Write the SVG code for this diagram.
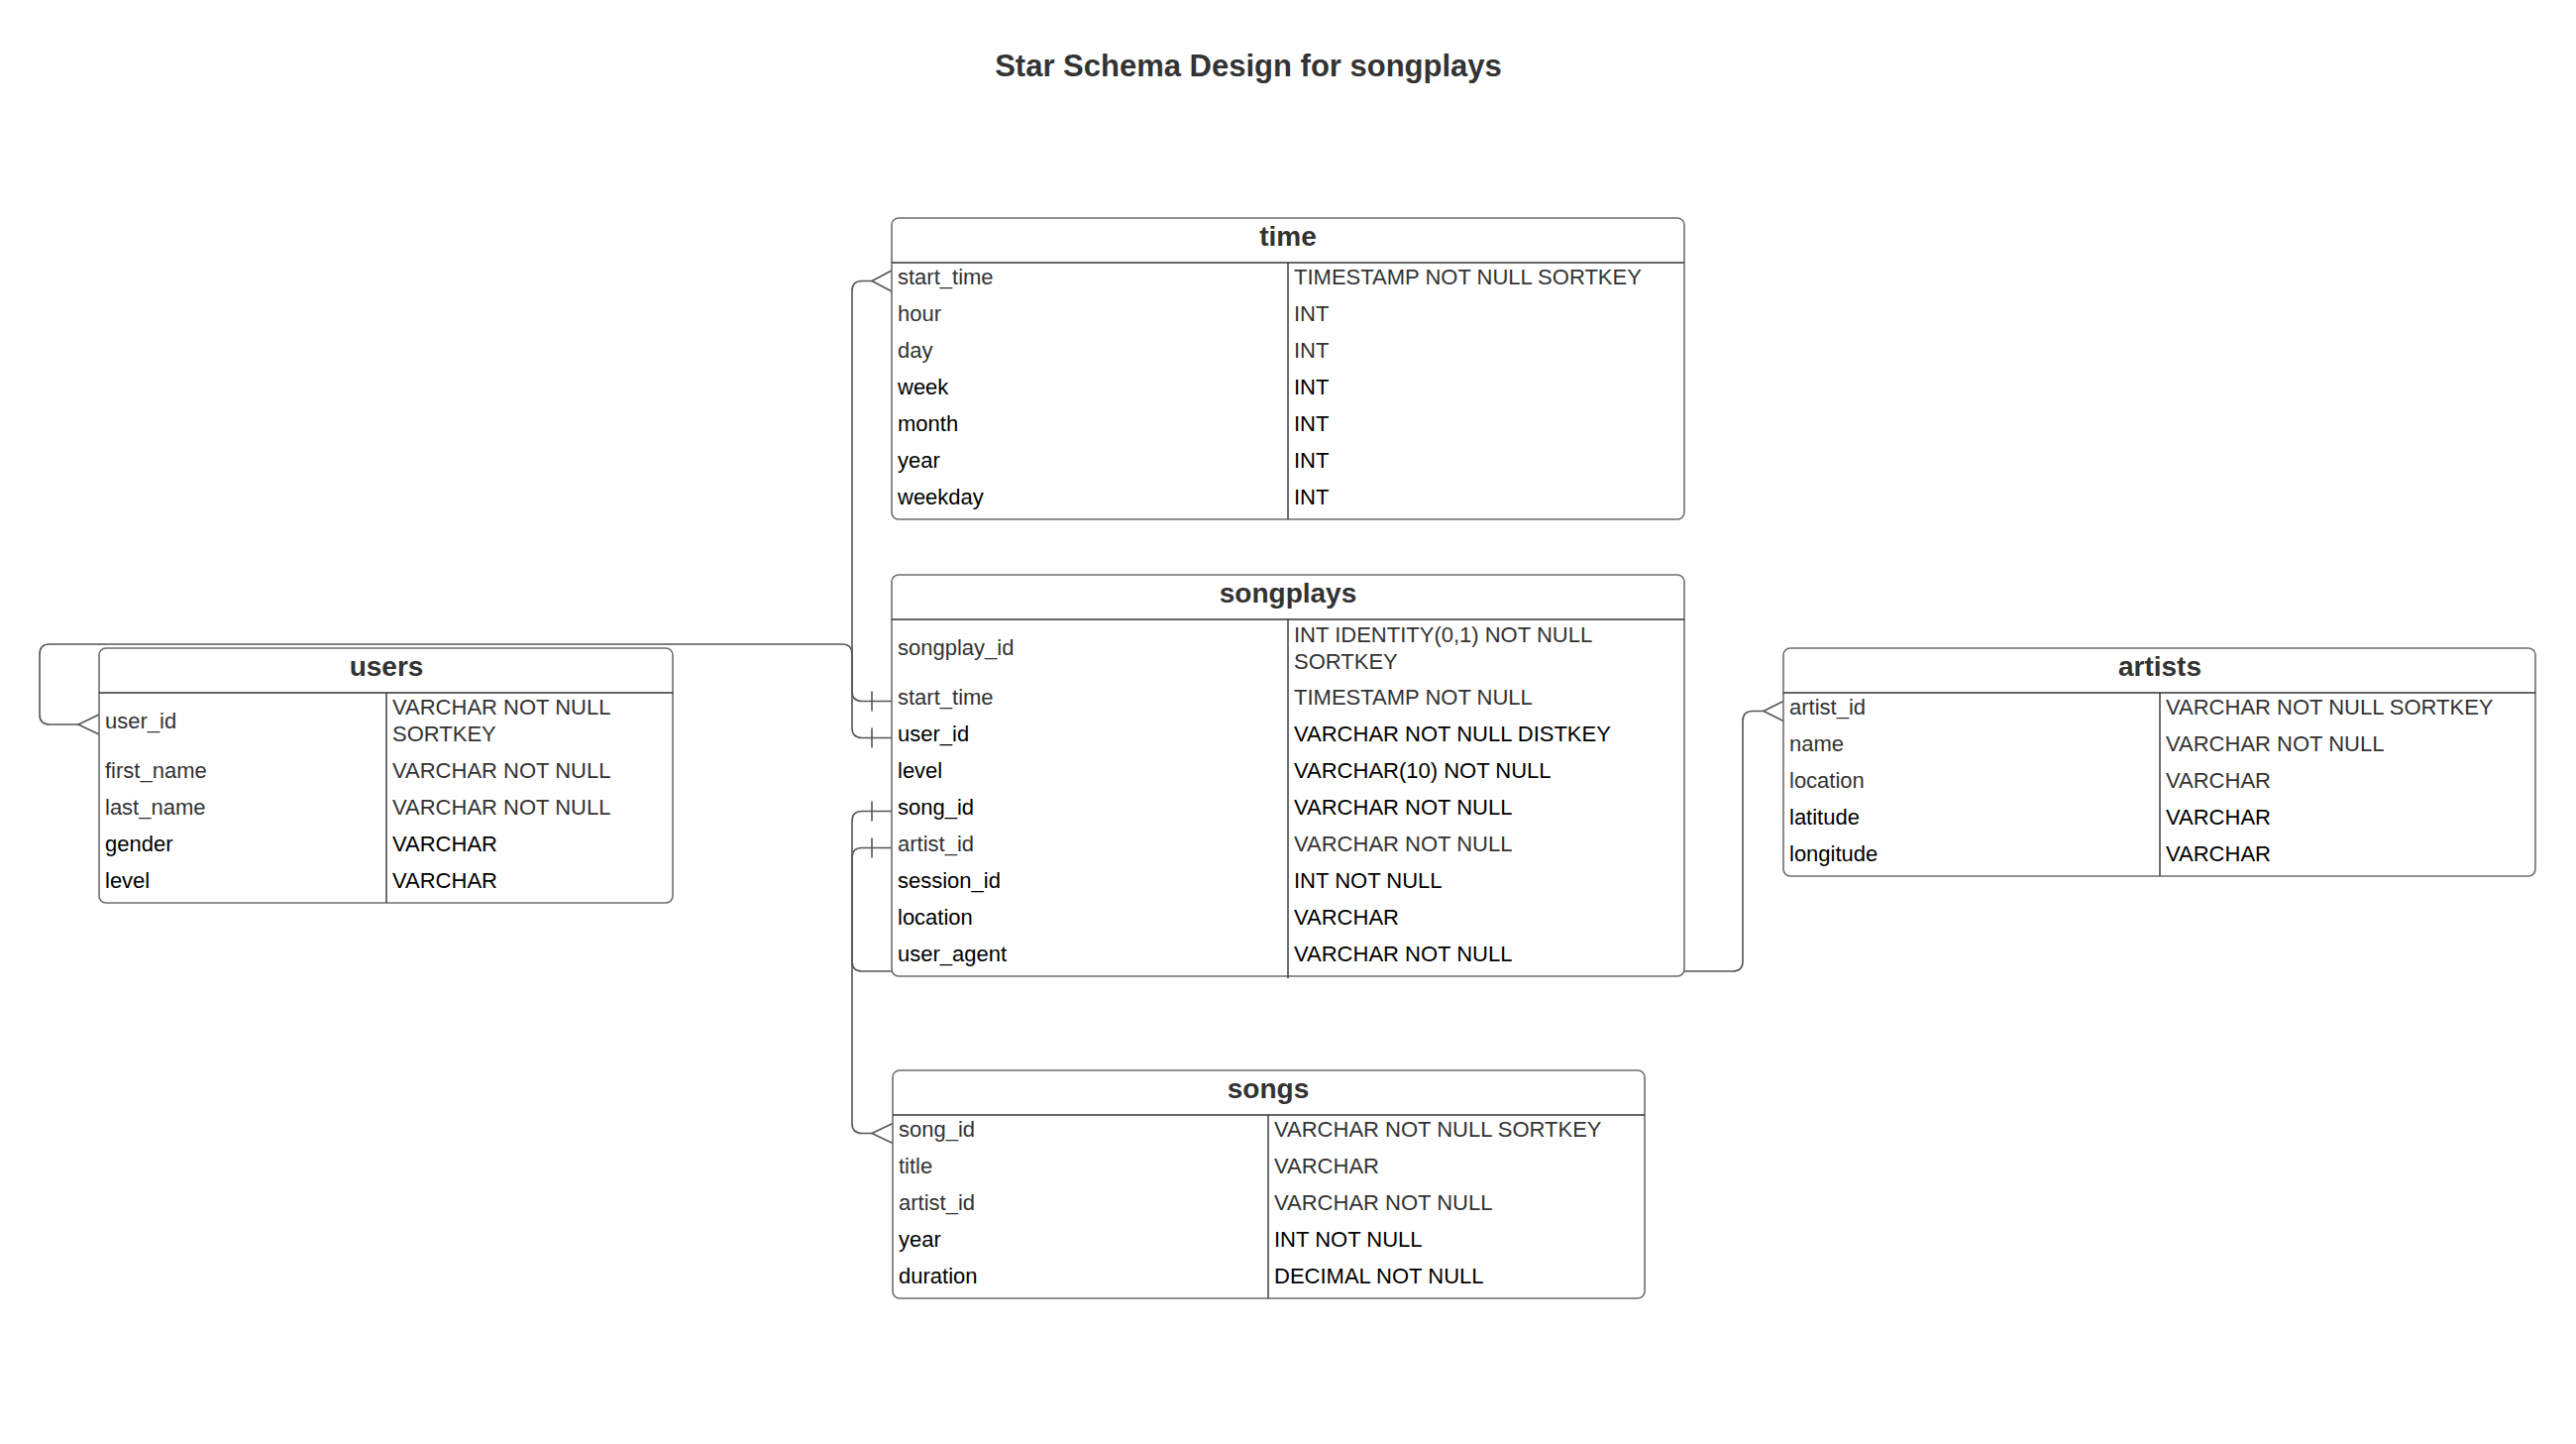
<svg xmlns="http://www.w3.org/2000/svg" width="2600" height="1457" viewBox="0 0 2600 1457">
<style>
text{font-family:"Liberation Sans",Arial,sans-serif}
.title{font-size:31px;font-weight:bold;fill:#333;text-anchor:middle}
.box{fill:#fff;stroke:#6e6e6e;stroke-width:1.6}
.div{stroke:#333;stroke-width:1.4;fill:none}
.h{font-size:28px;font-weight:bold;fill:#333;text-anchor:middle}
.g{font-size:22px;fill:#333}
.b{font-size:22px;fill:#000}
.conn{fill:none;stroke:#555;stroke-width:1.6}
</style>
<rect width="2600" height="1457" fill="#fff"/>
<text class="title" x="1260" y="76.5">Star Schema Design for songplays</text>

<g id="connectors">
  <!-- time.start_time -> songplays.start_time -->
  <path class="conn" d="M880 283.5H870Q860 283.5 860 293.5V697.5Q860 707.5 870 707.5H900"/>
  <path class="conn" d="M900 273L880 283.5L900 294"/>
  <path class="conn" d="M880 697.5V717.5"/>
  <!-- users.user_id -> songplays.user_id -->
  <path class="conn" d="M79 731H50Q40 731 40 721V660Q40 650 50 650H850Q860 650 860 660V734.5Q860 744.5 870 744.5H900"/>
  <path class="conn" d="M100 721L79 731L100 741"/>
  <path class="conn" d="M880 734.5V754.5"/>
  <!-- songs.song_id -> songplays.song_id -->
  <path class="conn" d="M900 818.5H870Q860 818.5 860 828.5V1133.5Q860 1143.5 870 1143.5H880"/>
  <path class="conn" d="M901 1133.5L880 1143.5L901 1153.5"/>
  <path class="conn" d="M880 808.5V828.5"/>
  <!-- artists.artist_id -> songplays.artist_id -->
  <path class="conn" d="M900 855.5H870Q860 855.5 860 865.5V970Q860 980 870 980H1749Q1759 980 1759 970V727.5Q1759 717.5 1769 717.5H1780"/>
  <path class="conn" d="M1800 707.5L1780 717.5L1800 727.5"/>
  <path class="conn" d="M880 845.5V865.5"/>
</g>

<g id="time">
  <rect class="box" x="900" y="220" width="800" height="304" rx="7"/>
  <line class="div" x1="900" y1="265" x2="1700" y2="265"/>
  <line class="div" x1="1300" y1="265" x2="1300" y2="524"/>
  <text class="h" x="1300" y="248">time</text>
  <text class="g" x="906" y="287">start_time</text><text class="g" x="1306" y="287">TIMESTAMP NOT NULL SORTKEY</text>
  <text class="g" x="906" y="324">hour</text><text class="g" x="1306" y="324">INT</text>
  <text class="g" x="906" y="361">day</text><text class="g" x="1306" y="361">INT</text>
  <text class="b" x="906" y="398">week</text><text class="b" x="1306" y="398">INT</text>
  <text class="b" x="906" y="435">month</text><text class="b" x="1306" y="435">INT</text>
  <text class="b" x="906" y="472">year</text><text class="b" x="1306" y="472">INT</text>
  <text class="b" x="906" y="509">weekday</text><text class="b" x="1306" y="509">INT</text>
</g>

<g id="users">
  <rect class="box" x="100" y="654" width="579" height="257" rx="7"/>
  <line class="div" x1="100" y1="699" x2="679" y2="699"/>
  <line class="div" x1="390" y1="699" x2="390" y2="911"/>
  <text class="h" x="390" y="682">users</text>
  <text class="g" x="106" y="735">user_id</text>
  <text class="g" x="396" y="721">VARCHAR NOT NULL</text>
  <text class="g" x="396" y="748">SORTKEY</text>
  <text class="g" x="106" y="785">first_name</text><text class="g" x="396" y="785">VARCHAR NOT NULL</text>
  <text class="g" x="106" y="822">last_name</text><text class="g" x="396" y="822">VARCHAR NOT NULL</text>
  <text class="b" x="106" y="859">gender</text><text class="b" x="396" y="859">VARCHAR</text>
  <text class="b" x="106" y="896">level</text><text class="b" x="396" y="896">VARCHAR</text>
</g>

<g id="songplays">
  <rect class="box" x="900" y="580" width="800" height="405" rx="7"/>
  <line class="div" x1="900" y1="625" x2="1700" y2="625"/>
  <line class="div" x1="1300" y1="625" x2="1300" y2="987"/>
  <text class="h" x="1300" y="608">songplays</text>
  <text class="g" x="906" y="661">songplay_id</text>
  <text class="g" x="1306" y="648">INT IDENTITY(0,1) NOT NULL</text>
  <text class="g" x="1306" y="675">SORTKEY</text>
  <text class="g" x="906" y="711">start_time</text><text class="g" x="1306" y="711">TIMESTAMP NOT NULL</text>
  <text class="b" x="906" y="748">user_id</text><text class="b" x="1306" y="748">VARCHAR NOT NULL DISTKEY</text>
  <text class="b" x="906" y="785">level</text><text class="b" x="1306" y="785">VARCHAR(10) NOT NULL</text>
  <text class="b" x="906" y="822">song_id</text><text class="b" x="1306" y="822">VARCHAR NOT NULL</text>
  <text class="g" x="906" y="859">artist_id</text><text class="g" x="1306" y="859">VARCHAR NOT NULL</text>
  <text class="b" x="906" y="896">session_id</text><text class="b" x="1306" y="896">INT NOT NULL</text>
  <text class="b" x="906" y="933">location</text><text class="b" x="1306" y="933">VARCHAR</text>
  <text class="b" x="906" y="970">user_agent</text><text class="b" x="1306" y="970">VARCHAR NOT NULL</text>
</g>

<g id="artists">
  <rect class="box" x="1800" y="654" width="759" height="230" rx="7"/>
  <line class="div" x1="1800" y1="699" x2="2559" y2="699"/>
  <line class="div" x1="2180" y1="699" x2="2180" y2="884"/>
  <text class="h" x="2180" y="682">artists</text>
  <text class="g" x="1806" y="721">artist_id</text><text class="g" x="2186" y="721">VARCHAR NOT NULL SORTKEY</text>
  <text class="g" x="1806" y="758">name</text><text class="g" x="2186" y="758">VARCHAR NOT NULL</text>
  <text class="g" x="1806" y="795">location</text><text class="g" x="2186" y="795">VARCHAR</text>
  <text class="b" x="1806" y="832">latitude</text><text class="b" x="2186" y="832">VARCHAR</text>
  <text class="b" x="1806" y="869">longitude</text><text class="b" x="2186" y="869">VARCHAR</text>
</g>

<g id="songs">
  <rect class="box" x="901" y="1080" width="759" height="230" rx="7"/>
  <line class="div" x1="901" y1="1125" x2="1660" y2="1125"/>
  <line class="div" x1="1280" y1="1125" x2="1280" y2="1310"/>
  <text class="h" x="1280" y="1108">songs</text>
  <text class="g" x="907" y="1147">song_id</text><text class="g" x="1286" y="1147">VARCHAR NOT NULL SORTKEY</text>
  <text class="g" x="907" y="1184">title</text><text class="g" x="1286" y="1184">VARCHAR</text>
  <text class="g" x="907" y="1221">artist_id</text><text class="g" x="1286" y="1221">VARCHAR NOT NULL</text>
  <text class="b" x="907" y="1258">year</text><text class="b" x="1286" y="1258">INT NOT NULL</text>
  <text class="b" x="907" y="1295">duration</text><text class="b" x="1286" y="1295">DECIMAL NOT NULL</text>
</g>
</svg>
